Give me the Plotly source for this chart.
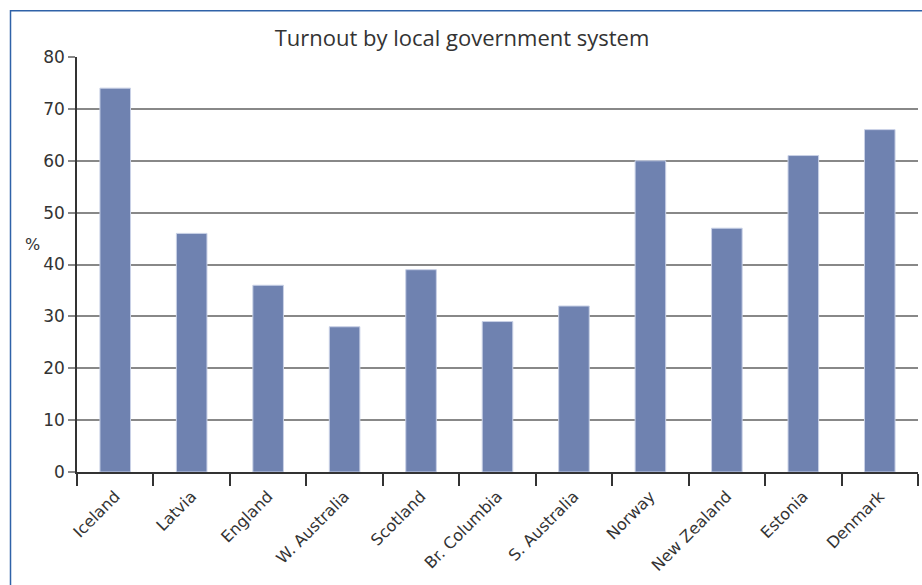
import plotly.graph_objects as go

categories = ["Iceland", "Latvia", "England", "W. Australia", "Scotland", "Br. Columbia",
              "S. Australia", "Norway", "New Zealand", "Estonia", "Denmark"]
turnout = [74, 46, 36, 28, 39, 29, 32, 60, 47, 61, 66]
y_ticks = [0, 10, 20, 30, 40, 50, 60, 70, 80]

W, H = 922, 585
L, R, T, B = 77, 4, 57, 113
pw, ph = W - L - R, H - T - B

def px_to_paper_x(px):
    return (px - L) / pw

def px_to_paper_y(py):
    return (H - B - py) / ph

fig = go.Figure(go.Bar(
    x=categories, y=turnout,
    marker=dict(color="#6f82b0", line=dict(color="#c9d1e6", width=1)),
))

fig.update_layout(
    width=W, height=H,
    margin=dict(l=L, r=R, t=T, b=B, autoexpand=False),
    paper_bgcolor="white", plot_bgcolor="white",
    bargap=0.6,
    showlegend=False,
    font=dict(family="DejaVu Sans", color="#333333"),
    title=dict(text="Turnout by local government system", x=px_to_paper_x(462), xanchor="center",
               xref="paper", y=1 - 38 / H, yanchor="middle",
               font=dict(family="Open Sans", size=22, color="#333333")),
    xaxis=dict(
        type="category", showgrid=False, showline=True, linecolor="#333333", linewidth=1.5,
        ticks="outside", tickson="boundaries", ticklen=12, tickcolor="#333333", tickwidth=1.5,
        tickangle=-45, tickfont=dict(family="DejaVu Sans", size=16, color="#333333"),
        ticklabelstandoff=7,
        range=[-0.5, 10.5], automargin=False,
    ),
    yaxis=dict(
        range=[0, 80], tickvals=y_ticks, showgrid=True, gridcolor="#888888", gridwidth=1.5,
        showline=True, linecolor="#333333", linewidth=1.5, zeroline=False,
        ticks="outside", ticklen=7, tickcolor="#888888", tickwidth=1.5,
        tickfont=dict(family="DejaVu Sans", size=17, color="#333333"), automargin=False,
    ),
    annotations=[dict(text="%", x=px_to_paper_x(32), y=px_to_paper_y(244), xref="paper", yref="paper",
                      xanchor="center", yanchor="middle",
                      showarrow=False, font=dict(family="DejaVu Sans", size=16, color="#333333"))],
    shapes=[dict(type="rect", xref="paper", yref="paper",
                 x0=px_to_paper_x(10.5), x1=px_to_paper_x(940),
                 y0=px_to_paper_y(600), y1=px_to_paper_y(10.7),
                 line=dict(color="#2f62a8", width=1.5), layer="below")],
)

fig.write_html("out.html", config={"displayModeBar": False})

with open("out.html", "r", encoding="utf-8") as f:
    html = f.read()
html = html.replace("<head>", "<head><style>html,body{margin:0;padding:0;overflow:hidden;}</style>", 1)
with open("out.html", "w", encoding="utf-8") as f:
    f.write(html)
